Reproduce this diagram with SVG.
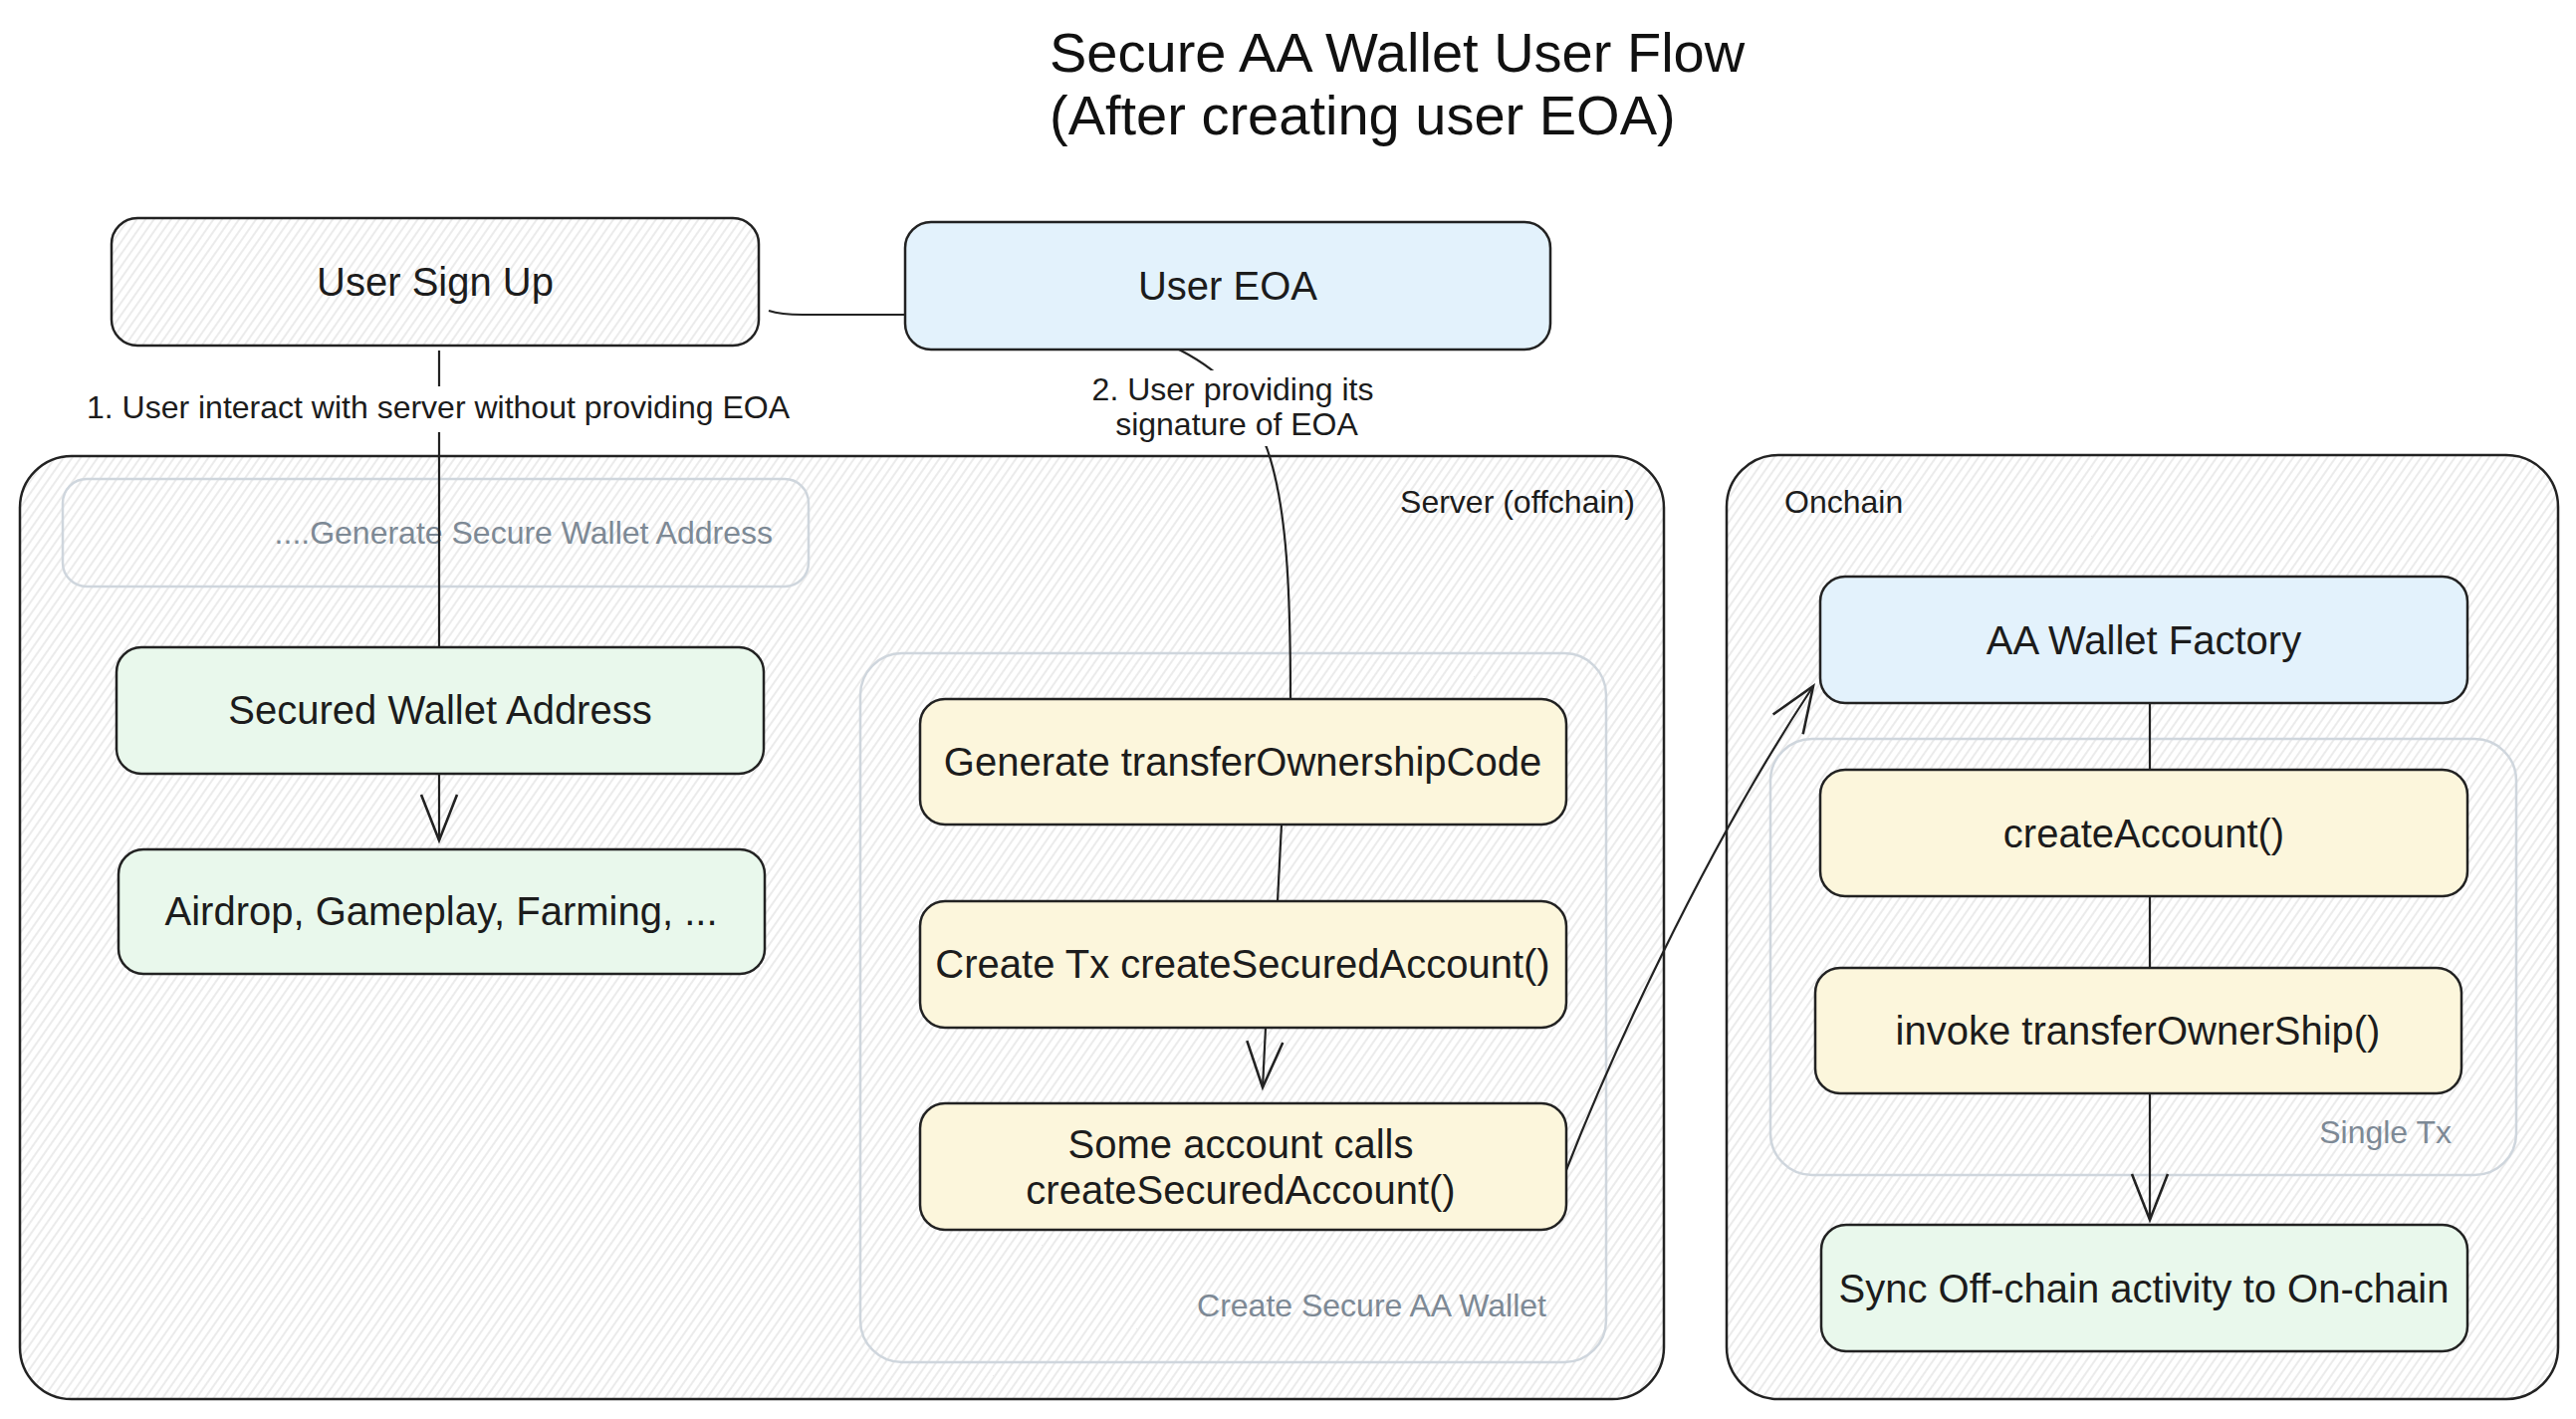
<svg xmlns="http://www.w3.org/2000/svg" width="2587" height="1425" viewBox="0 0 2587 1425">
<defs>
<pattern id="hatch" patternUnits="userSpaceOnUse" width="7" height="7" patternTransform="rotate(35)">
<rect width="7" height="7" fill="#ffffff"/>
<line x1="1" y1="0" x2="1" y2="7" stroke="#e3e3e3" stroke-width="1.4"/>
</pattern>
<marker id="arr" markerUnits="userSpaceOnUse" viewBox="-52 -24 56 48" markerWidth="56" markerHeight="48" refX="0" refY="0" orient="auto">
<path d="M-46,-18 L0,0 L-46,18" fill="none" stroke="#222" stroke-width="2.6" stroke-linejoin="miter"/>
</marker>
<style>
text{font-family:"Liberation Sans",Arial,Helvetica,sans-serif;fill:#1c1c1c}
.title{font-size:56px;fill:#111}
.node{stroke:#222;stroke-width:2.5}
.plain{fill:url(#hatch)}
.green{fill:#e9f8ec}
.blue{fill:#e3f2fc}
.yellow{fill:#fcf6dc}
.nt{font-size:40px;text-anchor:middle}
.cont{fill:url(#hatch);stroke:#222;stroke-width:2.5}
.grp{fill:none;stroke:#cfd6dd;stroke-width:2.5}
.gl{font-size:32px;fill:#7d8995}
.cl{font-size:32px;fill:#1c1c1c}
.el{font-size:32px;text-anchor:middle}
.conn{fill:none;stroke:#222;stroke-width:2.2}
</style>
</defs>
<rect width="2587" height="1425" fill="#ffffff"/>
<g id="title">
<text class="title" x="1054" y="72">Secure AA Wallet User Flow</text>
<text class="title" x="1054" y="135">(After creating user EOA)</text>
</g>
<g id="server">
<rect class="cont" x="20" y="458" width="1651" height="947" rx="52"/>
<text class="cl" x="1642" y="515" text-anchor="end">Server (offchain)</text>
</g>
<g id="onchain">
<rect class="cont" x="1734" y="457" width="835" height="948" rx="52"/>
<text class="cl" x="1792" y="515">Onchain</text>
</g>
<g id="gen-group">
<rect class="grp" x="63" y="481" width="749" height="108" rx="24"/>
<text class="gl" x="776" y="546" text-anchor="end">....Generate Secure Wallet Address</text>
</g>
<g id="create-group">
<rect class="grp" x="864" y="656" width="749" height="712" rx="42"/>
<text class="gl" x="1553" y="1322" text-anchor="end">Create Secure AA Wallet</text>
</g>
<g id="singletx-group">
<rect class="grp" x="1778" y="742" width="749" height="438" rx="42"/>
<text class="gl" x="2462" y="1148" text-anchor="end">Single Tx</text>
</g>
<g id="user-sign-up">
<rect class="node plain" x="112" y="219" width="650" height="128" rx="26"/>
<text class="nt" x="437" y="297">User Sign Up</text>
</g>
<g id="user-eoa">
<rect class="node blue" x="909" y="223" width="648" height="128" rx="26"/>
<text class="nt" x="1233" y="301">User EOA</text>
</g>
<g id="secured-wallet">
<rect class="node green" x="117" y="650" width="650" height="127" rx="25"/>
<text class="nt" x="442" y="727">Secured Wallet Address</text>
</g>
<g id="airdrop">
<rect class="node green" x="119" y="853" width="649" height="125" rx="25"/>
<text class="nt" x="443" y="929">Airdrop, Gameplay, Farming, ...</text>
</g>
<g id="gen-code">
<rect class="node yellow" x="924" y="702" width="649" height="126" rx="25"/>
<text class="nt" x="1248" y="779">Generate transferOwnershipCode</text>
</g>
<g id="create-tx">
<rect class="node yellow" x="924" y="905" width="649" height="127" rx="25"/>
<text class="nt" x="1248" y="982">Create Tx createSecuredAccount()</text>
</g>
<g id="some-account">
<rect class="node yellow" x="924" y="1108" width="649" height="127" rx="25"/>
<text class="nt" x="1246" y="1163">Some account calls</text>
<text class="nt" x="1246" y="1209">createSecuredAccount()</text>
</g>
<g id="aa-factory">
<rect class="node blue" x="1828" y="579" width="650" height="127" rx="25"/>
<text class="nt" x="2153" y="657">AA Wallet Factory</text>
</g>
<g id="create-account">
<rect class="node yellow" x="1828" y="773" width="650" height="127" rx="25"/>
<text class="nt" x="2153" y="851">createAccount()</text>
</g>
<g id="invoke-transfer">
<rect class="node yellow" x="1823" y="972" width="649" height="126" rx="25"/>
<text class="nt" x="2147" y="1049">invoke transferOwnerShip()</text>
</g>
<g id="sync">
<rect class="node green" x="1829" y="1230" width="649" height="127" rx="25"/>
<text class="nt" x="2153" y="1308">Sync Off-chain activity to On-chain</text>
</g>
<g id="connectors">
<path class="conn" d="M772,312 Q784,316 806,316 L909,316"/>
<path class="conn" d="M441,352 L441,650"/>
<path class="conn" d="M1184,351 C1280,400 1296,480 1296,702"/>
<path class="conn" d="M441,777 L441,844" marker-end="url(#arr)"/>
<path class="conn" d="M1287,828 L1283,905"/>
<path class="conn" d="M1271,1032 L1268,1092" marker-end="url(#arr)"/>
<path class="conn" d="M1573,1175 C1612,1075 1705,865 1821,689" marker-end="url(#arr)"/>
<path class="conn" d="M2159,706 L2159,773"/>
<path class="conn" d="M2159,900 L2159,972"/>
<path class="conn" d="M2159,1098 L2159,1225" marker-end="url(#arr)"/>
<rect x="84" y="388" width="712" height="46" fill="#ffffff"/>
<text class="el" x="440" y="420">1. User interact with server without providing EOA</text>
<rect x="1090" y="372" width="296" height="76" fill="#ffffff"/>
<text class="el" x="1238" y="402">2. User providing its</text>
<text class="el" x="1242" y="437">signature of EOA</text>
</g>
</svg>
